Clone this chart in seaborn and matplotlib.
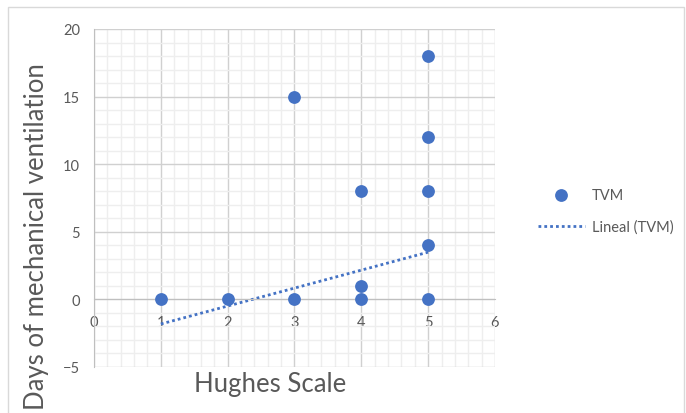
import matplotlib
matplotlib.use('Agg')
import matplotlib.pyplot as plt
import pandas as pd
import seaborn as sns
from matplotlib.patches import Rectangle
from matplotlib.ticker import MultipleLocator

# Hughes scale vs days of mechanical ventilation (overlapping zeros repeated)
hughes_scale = [1, 2,
                3, 3, 3, 3, 3, 3, 3, 3, 3, 3, 3, 3, 3,
                4, 4, 4, 4, 4, 4, 4, 4, 4, 4, 4, 4,
                5, 5, 5, 5, 5, 5, 5, 5, 5]
days_ventilation = [0, 0,
                    15, 0, 0, 0, 0, 0, 0, 0, 0, 0, 0, 0, 0,
                    8, 1, 0, 0, 0, 0, 0, 0, 0, 0, 0, 0,
                    18, 12, 8, 4, 0, 0, 0, 0, 0]
x_ticks = [0, 1, 2, 3, 4, 5, 6]
y_ticks = [-5, 0, 5, 10, 15, 20]

data = pd.DataFrame({'hughes': hughes_scale, 'days': days_ventilation})

sns.set_style('white')
plt.rcParams['font.family'] = ['Lato', 'DejaVu Sans']

blue = '#4472C4'
grey_text = '#595959'

fig = plt.figure(figsize=(6.86, 4.14), dpi=100)
ax = fig.add_axes([94 / 686, 1 - 368 / 414, 401 / 686, 338 / 414])

# chart area border
fig.patches.append(Rectangle((8 / 686, -0.05), 676 / 686, 1.05 - 8 / 414,
                             transform=fig.transFigure, fill=False,
                             edgecolor='#D9D9D9', linewidth=1))

sns.regplot(x='hughes', y='days', data=data, ax=ax, scatter=False, ci=None,
            truncate=True, color=blue, label='Lineal (TVM)',
            line_kws={'linestyle': (0, (1, 1.1)), 'linewidth': 2})
# overlapping points are drawn once so their edges don't thicken
sns.scatterplot(x='hughes', y='days', data=data.drop_duplicates(), ax=ax,
                color=blue, s=85, edgecolor=blue, linewidth=0, label='TVM',
                zorder=4)

ax.set_xlim(0, 6)
ax.set_ylim(-5, 20)
ax.set_xticks(x_ticks)
ax.set_yticks(y_ticks)
ax.xaxis.set_minor_locator(MultipleLocator(0.2))
ax.yaxis.set_minor_locator(MultipleLocator(1))
ax.grid(which='major', color='#D0D0D0', linewidth=1)
ax.grid(which='minor', color='#EEEEEE', linewidth=1)
ax.set_axisbelow(True)

for side in ['top', 'right']:
    ax.spines[side].set_visible(False)
ax.spines['bottom'].set_position(('data', 0))
ax.spines['bottom'].set_color('#BFBFBF')
ax.spines['left'].set_color('#BFBFBF')
ax.tick_params(which='both', length=0)
ax.tick_params(axis='x', pad=11, labelsize=10.5, labelcolor=grey_text)
ax.tick_params(axis='y', pad=10, labelsize=10.5, labelcolor=grey_text)

ax.set_xlabel('')
ax.set_ylabel('')
fig.text(270 / 686, 1 - 385 / 414, 'Hughes Scale', ha='center', va='center',
         fontsize=18.5, color=grey_text)
fig.text(37 / 686, 1 - 237 / 414, 'Days of mechanical ventilation', ha='center',
         va='center', rotation=90, fontsize=18.5, color=grey_text)

handles, labels = ax.get_legend_handles_labels()
order = [labels.index('TVM'), labels.index('Lineal (TVM)')]
ax.legend([handles[i] for i in order], [labels[i] for i in order],
          loc='center left', bbox_to_anchor=(525 / 686, 1 - 212 / 414),
          bbox_transform=fig.transFigure, frameon=False, fontsize=10.5,
          labelcolor=grey_text, handlelength=3.2, handletextpad=0.5,
          labelspacing=1.2)

fig.savefig('out.png', dpi=100)
